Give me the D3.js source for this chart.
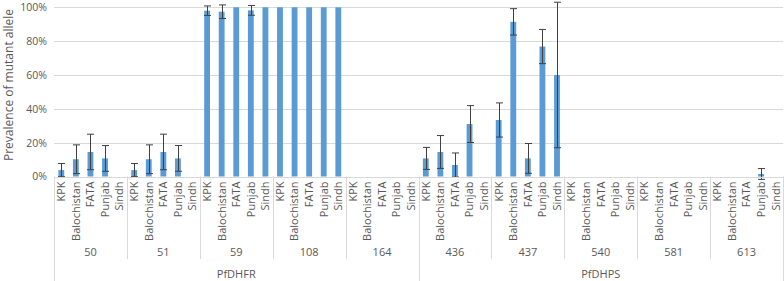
<!DOCTYPE html>
<html>
<head>
<meta charset="utf-8">
<script src="https://cdn.jsdelivr.net/npm/d3@7"></script>
<style>
  body { margin: 0; background: #fff; }
  text { font-family: "Open Sans", sans-serif; fill: #595959; }
</style>
</head>
<body>
<div id="chart"></div>
<script>
// data
const regions = ["KPK", "Balochistan", "FATA", "Punjab", "Sindh"];
const codons = ["50", "51", "59", "108", "164", "436", "437", "540", "581", "613"];
const codonGene = ["PfDHFR", "PfDHFR", "PfDHFR", "PfDHFR", "PfDHFR",
                   "PfDHPS", "PfDHPS", "PfDHPS", "PfDHPS", "PfDHPS"];
const genes = ["PfDHFR", "PfDHPS"];
// prevalence (%) per codon, in region order
const prevalence = [
  [3.8, 10.2, 14.5, 10.7, 0],
  [3.8, 10.2, 14.5, 10.7, 0],
  [98, 97.4, 100, 98.2, 100],
  [100, 100, 100, 100, 100],
  [0, 0, 0, 0, 0],
  [10.7, 14.5, 6.8, 31, 0],
  [33.4, 91.4, 10.7, 76.8, 60],
  [0, 0, 0, 0, 0],
  [0, 0, 0, 0, 0],
  [0, 0, 0, 1.5, 0]
];
// error (+/- %) per codon
const errors = [
  [3.9, 8.5, 10.5, 7.6, 0],
  [3.9, 8.5, 10.5, 7.6, 0],
  [2.8, 4, 0, 2.9, 0],
  [0, 0, 0, 0, 0],
  [0, 0, 0, 0, 0],
  [6.5, 9.7, 7.1, 10.9, 0],
  [10.1, 7.8, 8.8, 10.1, 43],
  [0, 0, 0, 0, 0],
  [0, 0, 0, 0, 0],
  [0, 0, 0, 3.2, 0]
];
const yTicks = [0, 20, 40, 60, 80, 100];

const W = 784, H = 281;
const plotLeft = 54, plotRight = 783, plotTop = 7.3, base = 176.5;

const rows = [];
codons.forEach((c, i) => regions.forEach((r, j) => rows.push({
  key: c + "|" + r, codon: c, region: r, gene: codonGene[i],
  v: prevalence[i][j], e: errors[i][j]
})));

const svg = d3.select("#chart").append("svg")
  .attr("width", W).attr("height", H);

const x = d3.scaleBand().domain(rows.map(d => d.key)).range([plotLeft, plotRight]).padding(0);
const y = d3.scaleLinear().domain([0, 100]).range([base, plotTop]);
const barW = x.bandwidth() / 2.5;

// gridlines
svg.append("g").selectAll("line").data(yTicks.filter(t => t > 0)).enter().append("line")
  .attr("x1", plotLeft).attr("x2", plotRight)
  .attr("y1", d => Math.round(y(d)) + 0.5).attr("y2", d => Math.round(y(d)) + 0.5)
  .attr("stroke", "#d9d9d9").attr("stroke-width", 1);

// y axis labels
const yAxis = svg.append("g")
  .attr("transform", `translate(${plotLeft - 7},0)`)
  .call(d3.axisLeft(y).tickValues(yTicks).tickSize(0).tickPadding(0).tickFormat(d => d + "%"));
yAxis.select(".domain").remove();
yAxis.selectAll("text").style("font-size", "10.5px").attr("fill", "#595959");

// y title
svg.append("text")
  .attr("transform", "translate(13,85) rotate(-90)")
  .attr("text-anchor", "middle")
  .style("font-size", "12px")
  .text("Prevalence of mutant allele");

// bars
svg.append("g").selectAll("rect").data(rows.filter(d => d.v > 0)).enter().append("rect")
  .attr("x", d => x(d.key) + (x.bandwidth() - barW) / 2)
  .attr("y", d => y(d.v))
  .attr("width", barW)
  .attr("height", d => base - y(d.v))
  .attr("fill", "#5b9bd5");

// error bars
const eb = svg.append("g").attr("stroke", "#404040").attr("stroke-width", 1)
  .selectAll("g").data(rows.filter(d => d.e > 0)).enter().append("g")
  .attr("transform", d => `translate(${Math.round(x(d.key) + x.bandwidth() / 2) + 0.5},0)`);
eb.append("line").attr("y1", d => y(d.v + d.e)).attr("y2", d => y(d.v - d.e));
eb.append("line").attr("x1", -3.5).attr("x2", 3.5)
  .attr("y1", d => y(d.v + d.e)).attr("y2", d => y(d.v + d.e));
eb.append("line").attr("x1", -3.5).attr("x2", 3.5)
  .attr("y1", d => y(d.v - d.e)).attr("y2", d => y(d.v - d.e));

// x axis line
svg.append("line")
  .attr("x1", plotLeft).attr("x2", plotRight)
  .attr("y1", Math.round(base) + 0.5).attr("y2", Math.round(base) + 0.5)
  .attr("stroke", "#d9d9d9");

// region labels
svg.append("g").selectAll("text").data(rows).enter().append("text")
  .attr("transform", d => `translate(${x(d.key) + x.bandwidth() / 2},${base + 5}) rotate(-90)`)
  .attr("text-anchor", "end")
  .attr("dy", "0.35em")
  .style("font-size", "11px")
  .text(d => d.region);

// codon group labels and dividers
const groupW = x.step() * regions.length;
svg.append("g").selectAll("text").data(codons).enter().append("text")
  .attr("x", (d, i) => plotLeft + groupW * (i + 0.5))
  .attr("y", 255.5)
  .attr("text-anchor", "middle")
  .style("font-size", "11px")
  .text(d => d);

const divs = d3.range(codons.length + 1).map(i => ({
  x: plotLeft + groupW * i,
  full: i === 0 || i === codons.length || codonGene[i] !== codonGene[i - 1]
}));
svg.append("g").selectAll("line").data(divs).enter().append("line")
  .attr("x1", d => Math.round(d.x) + 0.5).attr("x2", d => Math.round(d.x) + 0.5)
  .attr("y1", base).attr("y2", d => d.full ? H : 259)
  .attr("stroke", "#d9d9d9");

// gene labels
svg.append("g").selectAll("text").data(genes).enter().append("text")
  .attr("x", g => {
    const idx = codonGene.map((c, i) => c === g ? i : -1).filter(i => i >= 0);
    return plotLeft + groupW * (d3.min(idx) + d3.max(idx) + 1) / 2;
  })
  .attr("y", 278)
  .attr("text-anchor", "middle")
  .style("font-size", "11px")
  .text(g => g);
</script>
</body>
</html>
